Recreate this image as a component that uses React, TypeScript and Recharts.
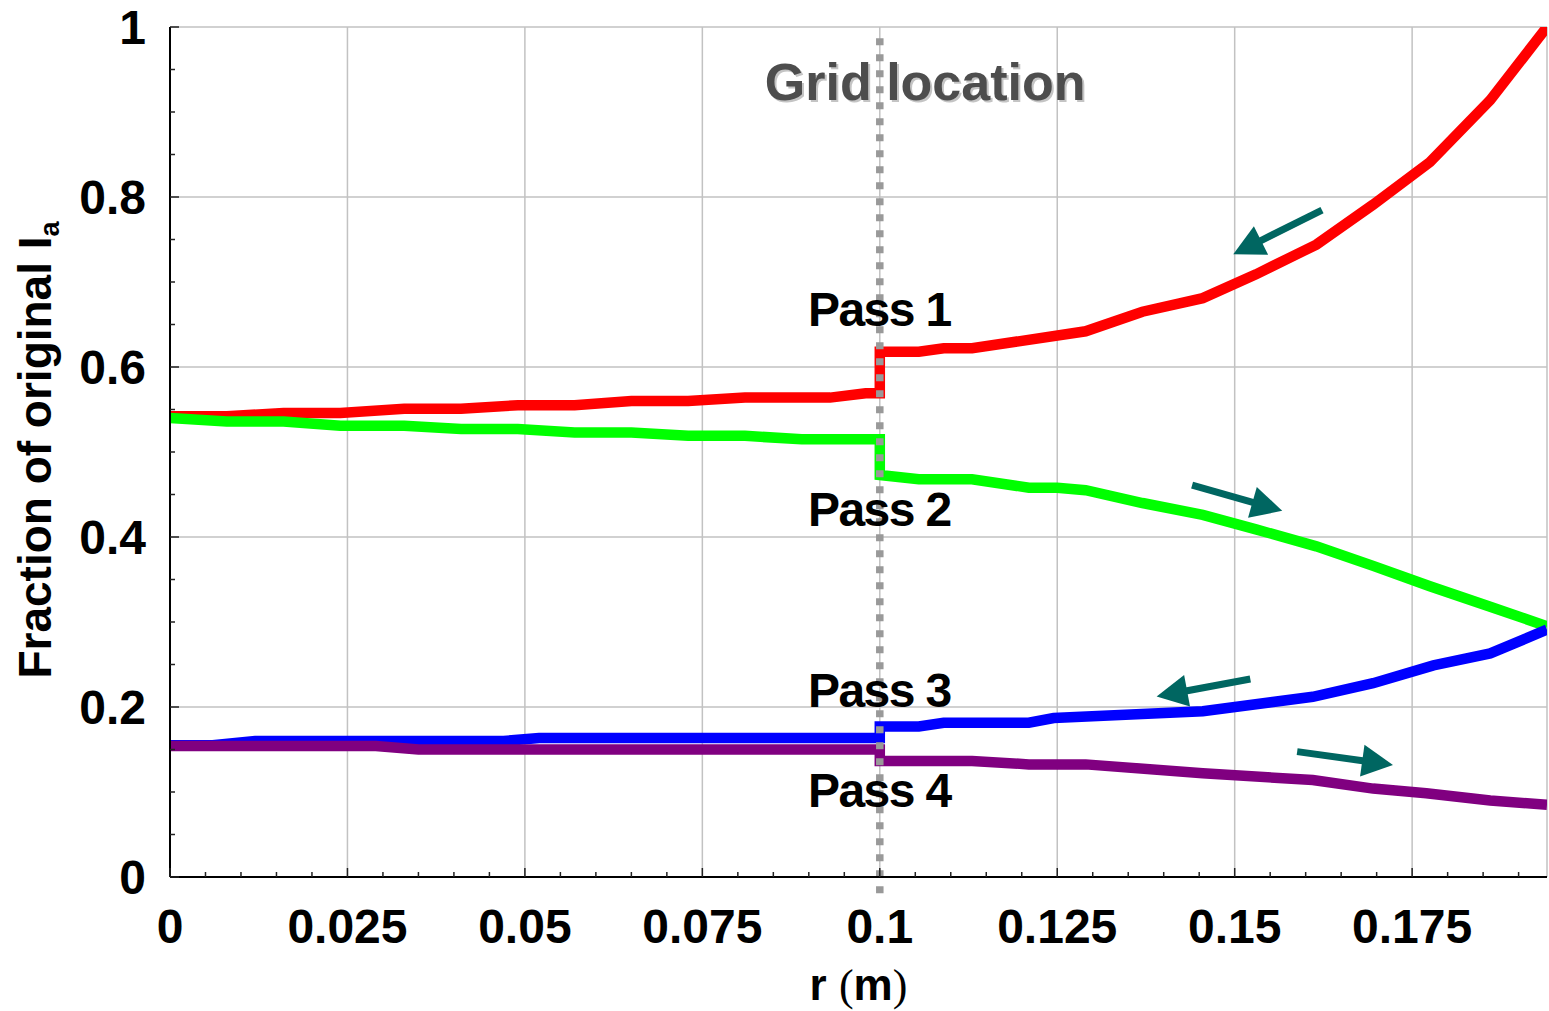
import React from "react";
import { LineChart, Line, XAxis, YAxis, CartesianGrid, ReferenceLine, ReferenceDot } from "recharts";

// r (m) and fraction of the original current, one pair of arrays per pass
const pass1R = [0, 0.008, 0.016, 0.024, 0.033, 0.041, 0.049, 0.057, 0.065, 0.073, 0.081, 0.093, 0.098, 0.1, 0.1, 0.1055, 0.109, 0.113, 0.129, 0.137, 0.1455, 0.153, 0.1615, 0.1695, 0.1775, 0.186, 0.194];
const pass1V = [0.542, 0.542, 0.546, 0.546, 0.551, 0.551, 0.555, 0.555, 0.56, 0.56, 0.564, 0.564, 0.569, 0.569, 0.618, 0.618, 0.622, 0.622, 0.642, 0.665, 0.681, 0.709, 0.744, 0.791, 0.841, 0.914, 1.0];

const pass2R = [0, 0.008, 0.016, 0.024, 0.033, 0.041, 0.049, 0.057, 0.065, 0.073, 0.081, 0.089, 0.1, 0.1, 0.1055, 0.113, 0.121, 0.125, 0.129, 0.137, 0.1455, 0.153, 0.1615, 0.1695, 0.1775, 0.186, 0.194];
const pass2V = [0.54, 0.536, 0.536, 0.531, 0.531, 0.527, 0.527, 0.523, 0.523, 0.519, 0.519, 0.515, 0.515, 0.473, 0.468, 0.468, 0.458, 0.458, 0.455, 0.44, 0.426, 0.409, 0.389, 0.366, 0.342, 0.318, 0.295];

const pass3R = [0, 0.006, 0.012, 0.047, 0.052, 0.1, 0.1, 0.1055, 0.109, 0.121, 0.1245, 0.1455, 0.161, 0.1695, 0.178, 0.186, 0.194];
const pass3V = [0.155, 0.155, 0.16, 0.16, 0.1635, 0.1635, 0.177, 0.177, 0.1815, 0.1815, 0.187, 0.195, 0.212, 0.228, 0.249, 0.263, 0.291];

const pass4R = [0, 0.029, 0.035, 0.1, 0.1, 0.113, 0.121, 0.129, 0.1455, 0.161, 0.1695, 0.177, 0.186, 0.194];
const pass4V = [0.154, 0.154, 0.15, 0.15, 0.1365, 0.1365, 0.1325, 0.1325, 0.122, 0.114, 0.104, 0.0985, 0.09, 0.085];

const xLabelTicks = [0, 0.025, 0.05, 0.075, 0.1, 0.125, 0.15, 0.175];
const yLabelTicks = [0, 0.2, 0.4, 0.6, 0.8, 1];
const xMinorTicks = Array.from({ length: 39 }, (_, i) => (i * 5) / 1000);
const yMinorTicks = Array.from({ length: 21 }, (_, i) => (i * 5) / 100);

const gridR = 0.1;

const passLabels = [
  { text: "Pass 1", r: 0.0899, v: 0.648 },
  { text: "Pass 2", r: 0.0899, v: 0.413 },
  { text: "Pass 3", r: 0.0899, v: 0.2 },
  { text: "Pass 4", r: 0.0899, v: 0.0824 },
];

// direction arrows: tail -> tip
const arrows = [
  { r1: 0.1623, v1: 0.7845, r2: 0.1498, v2: 0.7326 },
  { r1: 0.144, v1: 0.461, r2: 0.1567, v2: 0.4308 },
  { r1: 0.1522, v1: 0.233, r2: 0.139, v2: 0.2124 },
  { r1: 0.1588, v1: 0.1475, r2: 0.1723, v2: 0.1318 },
];

const toPoints = (rs: number[], vs: number[]) => rs.map((r, i) => ({ r, v: vs[i] }));

const series = [
  { name: "Pass 1", data: toPoints(pass1R, pass1V), color: "#ff0000" },
  { name: "Pass 2", data: toPoints(pass2R, pass2V), color: "#00ff00" },
  { name: "Pass 3", data: toPoints(pass3R, pass3V), color: "#0000ff" },
  { name: "Pass 4", data: toPoints(pass4R, pass4V), color: "#800080" },
];

const FONT = '"Liberation Sans", Arial, sans-serif';
const X_DOMAIN: [number, number] = [0, 0.194];
const Y_DOMAIN: [number, number] = [0, 1];
const TICK_COLOR = "#222";
const LINE_WIDTH = 10.5;

const BottomTick = (p: any) => {
  const v = p.payload.value;
  const major = xLabelTicks.includes(v);
  return (
    <g>
      <line x1={p.x} x2={p.x} y1={p.y} y2={p.y - (major ? 9 : 5)} stroke={TICK_COLOR} strokeWidth={1.5} />
      {major && (
        <text x={p.x} y={p.y + 66} textAnchor="middle" fontSize={48} fontWeight="bold" fontFamily={FONT} fill="#000">
          {String(v)}
        </text>
      )}
    </g>
  );
};

const TopTick = (p: any) => {
  const major = xLabelTicks.includes(p.payload.value);
  return <line x1={p.x} x2={p.x} y1={p.y} y2={p.y + (major ? 11 : 7)} stroke={TICK_COLOR} strokeWidth={1.5} />;
};

const LeftTick = (p: any) => {
  const v = p.payload.value;
  const major = yLabelTicks.includes(v);
  return (
    <g>
      <line x1={p.x} x2={p.x + (major ? 9 : 5)} y1={p.y} y2={p.y} stroke={TICK_COLOR} strokeWidth={1.5} />
      {major && (
        <text x={p.x - 24} y={p.y + 17} textAnchor="end" fontSize={48} fontWeight="bold" fontFamily={FONT} fill="#000">
          {String(v)}
        </text>
      )}
    </g>
  );
};

const RightTick = (p: any) => {
  const major = yLabelTicks.includes(p.payload.value);
  return <line x1={p.x} x2={p.x - (major ? 9 : 5)} y1={p.y} y2={p.y} stroke={TICK_COLOR} strokeWidth={1.5} />;
};

const XTitle = (props: any) => {
  const { x, y, width } = props.viewBox;
  return (
    <text x={x + width / 2} y={y + 123} textAnchor="middle" fontSize={44} fontWeight="bold" fontFamily={FONT} fill="#000">
      r <tspan fontFamily='"Liberation Serif", serif' fontWeight="normal">(</tspan>m
      <tspan fontFamily='"Liberation Serif", serif' fontWeight="normal">)</tspan>
    </text>
  );
};

const YTitle = (props: any) => {
  const { x, y, height } = props.viewBox;
  const cx = x + 31;
  const cy = y + height / 2 - 2;
  return (
    <text transform={`translate(${cx},${cy}) rotate(-90)`} x={0} y={0} textAnchor="middle" fontSize={46} fontWeight="bold" fontFamily={FONT} fill="#000">
      Fraction of original I
      <tspan fontSize={27} dy={8}>a</tspan>
    </text>
  );
};

const Arrow = (p: any) => {
  const { x1, y1, x2, y2 } = p;
  const dx = x2 - x1;
  const dy = y2 - y1;
  const len = Math.hypot(dx, dy);
  const ux = dx / len;
  const uy = dy / len;
  const head = 31;
  const half = 16;
  const bx = x2 - ux * head;
  const by = y2 - uy * head;
  return (
    <g>
      <line x1={x1} y1={y1} x2={bx + ux * 4} y2={by + uy * 4} style={{ stroke: "#006661", strokeWidth: 7 }} />
      <polygon
        points={`${x2},${y2} ${bx - uy * half},${by + ux * half} ${bx + uy * half},${by - ux * half}`}
        fill="#006661"
      />
    </g>
  );
};

// vertical dotted marker through the grid position
const GridMarker = (p: any) => (
  <line
    x1={p.x1}
    y1={p.y1}
    x2={p.x2}
    y2={p.y2}
    style={{ stroke: "#999999", strokeWidth: 7.5, strokeDasharray: "7 9" }}
  />
);

const passText = (text: string) => (p: any) => (
  <text x={p.cx} y={p.cy} fontSize={48} fontWeight="bold" fontFamily={FONT} letterSpacing={-1.6} fill="#000">
    {text}
  </text>
);

const gridText = (p: any) => (
  <g fontSize={52} fontWeight="bold" fontFamily={FONT}>
    <text x={p.cx + 2} y={p.cy + 2} fill="#c4c4c4">Grid location</text>
    <text x={p.cx} y={p.cy} fill="#4d4d4d">Grid location</text>
  </g>
);

export default function App() {
  return (
    <div style={{ position: "absolute", left: 0, top: 0, background: "#fff" }}>
      <LineChart width={1549} height={1011} margin={{ top: 27, right: 2, bottom: 10, left: 20 }}>
        <XAxis
          xAxisId="x"
          type="number"
          dataKey="r"
          domain={X_DOMAIN}
          allowDataOverflow
          ticks={xMinorTicks}
          interval={0}
          height={124}
          tickSize={0}
          tickMargin={0}
          tickLine={false}
          tick={BottomTick}
          axisLine={{ stroke: "#000", strokeWidth: 2 }}
          label={XTitle}
        />
        <XAxis
          xAxisId="top"
          orientation="top"
          type="number"
          dataKey="r"
          domain={X_DOMAIN}
          allowDataOverflow
          ticks={xMinorTicks}
          interval={0}
          height={0}
          tickSize={0}
          tickMargin={0}
          tickLine={false}
          tick={TopTick}
          axisLine={{ stroke: "#111", strokeWidth: 1.5 }}
        />
        <YAxis
          yAxisId="y"
          type="number"
          domain={Y_DOMAIN}
          allowDataOverflow
          ticks={yMinorTicks}
          interval={0}
          width={150}
          tickSize={0}
          tickMargin={0}
          tickLine={false}
          tick={LeftTick}
          axisLine={{ stroke: "#000", strokeWidth: 2 }}
          label={YTitle}
        />
        <YAxis
          yAxisId="right"
          orientation="right"
          type="number"
          domain={Y_DOMAIN}
          allowDataOverflow
          ticks={yMinorTicks}
          interval={0}
          width={0}
          tickSize={0}
          tickMargin={0}
          tickLine={false}
          tick={RightTick}
          axisLine={{ stroke: "#333", strokeWidth: 1.5 }}
        />
        {/* hidden axes that only carry the major positions for the grid */}
        <XAxis xAxisId="grid" orientation="top" type="number" dataKey="r" domain={X_DOMAIN} allowDataOverflow ticks={xLabelTicks} height={0} hide />
        <YAxis yAxisId="grid" orientation="right" type="number" domain={Y_DOMAIN} allowDataOverflow ticks={yLabelTicks} width={0} hide />
        <CartesianGrid xAxisId="grid" yAxisId="grid" stroke="#c2c2c2" strokeWidth={1.5} />

        <ReferenceDot xAxisId="x" yAxisId="y" x={0.0838} y={0.914} r={0} shape={gridText} />
        {passLabels.map((l) => (
          <ReferenceDot key={l.text} xAxisId="x" yAxisId="y" x={l.r} y={l.v} r={0} shape={passText(l.text)} />
        ))}

        {series.map((s) => (
          <Line
            key={s.name}
            xAxisId="x"
            yAxisId="y"
            data={s.data}
            dataKey="v"
            name={s.name}
            type="linear"
            stroke={s.color}
            strokeWidth={LINE_WIDTH}
            style={{ strokeWidth: LINE_WIDTH }}
            strokeLinejoin="miter"
            dot={false}
            activeDot={false}
            isAnimationActive={false}
          />
        ))}

        {arrows.map((a, i) => (
          <ReferenceLine
            key={i}
            xAxisId="x"
            yAxisId="y"
            segment={[{ x: a.r1, y: a.v1 }, { x: a.r2, y: a.v2 }]}
            shape={Arrow}
          />
        ))}

        <ReferenceLine
          xAxisId="x"
          yAxisId="y"
          segment={[{ x: gridR, y: -0.019 }, { x: gridR, y: 0.99 }]}
          ifOverflow="visible"
          shape={GridMarker}
        />
      </LineChart>
    </div>
  );
}
